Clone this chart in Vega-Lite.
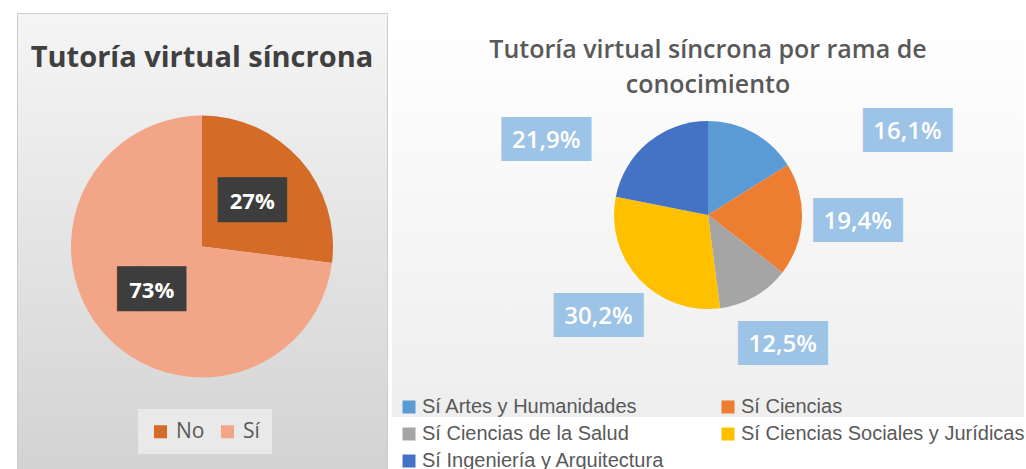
{
  "$schema": "https://vega.github.io/schema/vega-lite/v6.json",
  "padding": {"left": 16, "top": 12, "right": 0, "bottom": 0},
  "background": "#ffffff",
  "spacing": 4,
  "resolve": {"scale": {"color": "independent", "theta": "independent"}, "legend": {"color": "independent"}},
  "config": {
    "locale": {"number": {"decimal": ",", "thousands": ".", "grouping": [3], "currency": ["", " €"]}},
    "view": {"stroke": null},
    "font": "Open Sans"
  },
  "hconcat": [
    {
      "width": 370,
      "height": 467,
      "view": {
        "fill": {"gradient": "linear", "x1": 0, "y1": 0, "x2": 0, "y2": 1, "stops": [{"offset": 0, "color": "#f5f5f5"}, {"offset": 1, "color": "#d2d2d2"}]},
        "stroke": "#cccccc"
      },
      "title": {"text": "Tutoría virtual síncrona", "orient": "top", "anchor": "middle", "offset": -83, "baseline": "alphabetic", "fontSize": 29, "fontWeight": "bold", "color": "#404040", "font": "Open Sans"},
      "data": {"values": [
        {"respuesta": "No", "porcentaje": 0.27},
        {"respuesta": "Sí", "porcentaje": 0.73}
      ]},
      "encoding": {
        "theta": {"field": "porcentaje", "type": "quantitative", "stack": true}
      },
      "layer": [
        {
          "mark": {"type": "arc", "outerRadius": 131},
          "encoding": {
            "color": {
              "field": "respuesta", "type": "nominal",
              "scale": {"domain": ["No", "Sí"], "range": ["#D46C28", "#F2A687"]},
              "legend": {"title": null, "orient": "none", "legendX": 121, "legendY": 396, "direction": "horizontal", "symbolType": "square", "symbolSize": 170, "symbolStrokeWidth": 0, "labelFontSize": 21, "labelFont": "Open Sans", "labelColor": "#595959", "fillColor": "#e9e9e9", "padding": 12, "columnPadding": 12, "labelOffset": 5}
            }
          }
        },
        {
          "mark": {"type": "text", "radius": 67, "font": "DejaVu Sans Mono", "fontSize": 38, "color": "#3d3d3d", "baseline": "middle", "align": "center"},
          "encoding": {"text": {"value": "███"}, "detail": {"field": "respuesta", "type": "nominal"}}
        },
        {
          "mark": {"type": "text", "radius": 67, "fontSize": 22, "fontWeight": "bold", "color": "#ffffff", "baseline": "middle", "align": "center"},
          "encoding": {"text": {"field": "porcentaje", "type": "quantitative", "format": ".0%"}, "detail": {"field": "respuesta", "type": "nominal"}}
        }
      ]
    },
    {
      "width": 632,
      "height": 404,
      "view": {
        "fill": {"gradient": "linear", "x1": 0, "y1": 0, "x2": 0, "y2": 1, "stops": [{"offset": 0, "color": "#ffffff"}, {"offset": 1, "color": "#eeeeee"}]},
        "stroke": null
      },
      "title": {"text": ["Tutoría virtual síncrona por rama de", "conocimiento"], "orient": "top", "anchor": "middle", "offset": -105, "baseline": "alphabetic", "fontSize": 25, "fontWeight": 600, "color": "#595959", "lineHeight": 35, "font": "Open Sans"},
      "data": {"values": [
        {"rama": "Sí Artes y Humanidades", "orden": 1, "porcentaje": 0.161},
        {"rama": "Sí Ciencias", "orden": 2, "porcentaje": 0.194},
        {"rama": "Sí Ciencias de la Salud", "orden": 3, "porcentaje": 0.125},
        {"rama": "Sí Ciencias Sociales y Jurídicas", "orden": 4, "porcentaje": 0.302},
        {"rama": "Sí Ingeniería y Arquitectura", "orden": 5, "porcentaje": 0.219}
      ]},
      "encoding": {
        "theta": {"field": "porcentaje", "type": "quantitative", "stack": true},
        "order": {"field": "orden", "type": "quantitative"},
        "detail": {"field": "rama", "type": "nominal"}
      },
      "layer": [
        {
          "mark": {"type": "arc", "outerRadius": 94},
          "encoding": {
            "color": {
              "field": "rama", "type": "nominal",
              "scale": {
                "domain": ["Sí Artes y Humanidades", "Sí Ciencias", "Sí Ciencias de la Salud", "Sí Ciencias Sociales y Jurídicas", "Sí Ingeniería y Arquitectura"],
                "range": ["#5B9BD5", "#ED7D31", "#A5A5A5", "#FFC000", "#4472C4"]
              },
              "legend": {"title": null, "orient": "none", "legendX": 7, "legendY": 384, "columns": 2, "direction": "horizontal", "symbolType": "square", "symbolSize": 169, "symbolStrokeWidth": 0, "labelFontSize": 20, "labelFont": "Liberation Sans", "labelColor": "#595959", "columnPadding": 53, "rowPadding": 7, "labelOffset": 3, "labelLimit": 400}
            }
          }
        },
        {
          "mark": {"type": "text", "radius": 150, "font": "DejaVu Sans Mono", "fontSize": 37, "color": "#9DC3E6", "baseline": "middle", "align": "center", "clip": true},
          "encoding": {"text": {"condition": {"test": "datum.orden >= 2 && datum.orden <= 4", "value": "████"}, "value": ""}}
        },
        {
          "mark": {"type": "text", "radius": 150, "fontSize": 24, "fontWeight": 600, "color": "#ffffff", "baseline": "middle", "align": "center", "clip": true},
          "encoding": {"text": {"condition": {"test": "datum.orden >= 2 && datum.orden <= 4", "field": "porcentaje", "type": "quantitative", "format": ".1%"}, "value": ""}}
        },
        {
          "mark": {"type": "text", "radius": 216, "thetaOffset": 0.672, "font": "DejaVu Sans Mono", "fontSize": 37, "color": "#9DC3E6", "baseline": "middle", "align": "center", "clip": true},
          "encoding": {"text": {"condition": {"test": "datum.orden == 1", "value": "████"}, "value": ""}}
        },
        {
          "mark": {"type": "text", "radius": 216, "thetaOffset": 0.672, "fontSize": 24, "fontWeight": 600, "color": "#ffffff", "baseline": "middle", "align": "center", "clip": true},
          "encoding": {"text": {"condition": {"test": "datum.orden == 1", "field": "porcentaje", "type": "quantitative", "format": ".1%"}, "value": ""}}
        },
        {
          "mark": {"type": "text", "radius": 178, "thetaOffset": -0.454, "font": "DejaVu Sans Mono", "fontSize": 37, "color": "#9DC3E6", "baseline": "middle", "align": "center", "clip": true},
          "encoding": {"text": {"condition": {"test": "datum.orden == 5", "value": "████"}, "value": ""}}
        },
        {
          "mark": {"type": "text", "radius": 178, "thetaOffset": -0.454, "fontSize": 24, "fontWeight": 600, "color": "#ffffff", "baseline": "middle", "align": "center", "clip": true},
          "encoding": {"text": {"condition": {"test": "datum.orden == 5", "field": "porcentaje", "type": "quantitative", "format": ".1%"}, "value": ""}}
        }
      ]
    }
  ]
}
